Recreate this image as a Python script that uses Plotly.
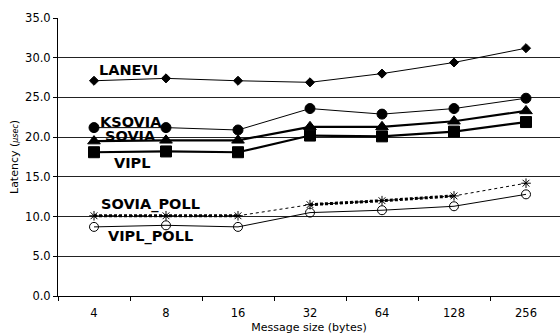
import plotly.graph_objects as go

# Message sizes (bytes) on the category axis
sizes = ["4", "8", "16", "32", "64", "128", "256"]

# One-way latency in microseconds for each transport
lanevi = [27.1, 27.4, 27.1, 26.9, 28.0, 29.4, 31.2]
ksovia = [21.2, 21.2, 20.9, 23.6, 22.9, 23.6, 24.9]
sovia = [19.5, 19.6, 19.6, 21.3, 21.3, 22.0, 23.3]
vipl = [18.1, 18.2, 18.1, 20.2, 20.1, 20.7, 21.9]
sovia_poll = [10.1, 10.1, 10.1, 11.5, 12.0, 12.6, 14.2]
vipl_poll = [8.7, 8.9, 8.7, 10.5, 10.8, 11.3, 12.8]

y_ticks = [0, 5, 10, 15, 20, 25, 30, 35]

BLACK = "#000000"
fig = go.Figure()


def add_line(y, width, symbol, msize, dash="solid", x=None, show_markers=True):
    xs = sizes if x is None else x
    fig.add_trace(go.Scatter(
        x=xs, y=y,
        mode="lines+markers" if show_markers else "lines",
        line=dict(color=BLACK, width=width, dash=dash),
        marker=dict(symbol=symbol, size=msize, color=BLACK,
                    line=dict(color=BLACK, width=1)),
        showlegend=False, hoverinfo="x+y",
    ))


add_line(lanevi, 1, "diamond", 7)
add_line(ksovia, 1, "circle", 10)
add_line(sovia, 2.2, "triangle-up", 11)
add_line(vipl, 2.2, "square", 11)

# SOVIA_POLL: thin dotted base line, heavier dots over the flat runs
add_line(sovia_poll[0:3], 3, "asterisk-open", 8, dash="3px,2px", x=sizes[0:3], show_markers=False)
add_line(sovia_poll[3:6], 3, "asterisk-open", 8, dash="3px,2px", x=sizes[3:6], show_markers=False)
add_line(sovia_poll, 1, "asterisk-open", 8, dash="dot")

add_line(vipl_poll, 1, "circle-open", 9)

labels = [
    ("LANEVI", 0.48, 28.4),
    ("KSOVIA", 0.51, 21.9),
    ("SOVIA", 0.50, 20.15),
    ("VIPL", 0.53, 16.75),
    ("SOVIA_POLL", 0.78, 11.55),
    ("VIPL_POLL", 0.79, 7.55),
]
for text, xi, yi in labels:
    fig.add_annotation(
        x=xi, y=yi, xref="x", yref="y", text=f"<b>{text}</b>",
        showarrow=False,
        font=dict(family="DejaVu Sans", size=14.5, color=BLACK),
    )

# y-axis title with the smaller italic unit
fig.add_annotation(
    x=-44 / 502, y=0.5, xref="paper", yref="paper",
    xanchor="center", yanchor="middle",
    text="Latency (<i><span style='font-size:8px'>μsec</span></i>)",
    textangle=-90, showarrow=False,
    font=dict(family="DejaVu Sans", size=11, color=BLACK),
)

fig.update_layout(
    width=560, height=335,
    margin=dict(l=58, r=0, t=18, b=39),
    paper_bgcolor="white", plot_bgcolor="white",
    font=dict(family="DejaVu Sans", size=11.5, color=BLACK),
    xaxis=dict(
        type="category", categoryorder="array", categoryarray=sizes,
        range=[-0.5, -0.5 + 502 / 72],
        showgrid=False, showline=True, linecolor=BLACK, linewidth=1,
        ticks="outside", ticklen=4, tickcolor=BLACK, tickson="boundaries",
        ticklabelstandoff=6,
        title=dict(text="Message size (bytes)", standoff=4,
                   font=dict(size=11)),
        zeroline=False,
    ),
    yaxis=dict(
        range=[0, 35], tickvals=y_ticks,
        ticktext=[f"{v:.1f}" for v in y_ticks],
        showgrid=True, gridcolor="#222222", gridwidth=1,
        showline=True, linecolor=BLACK, linewidth=1,
        ticks="outside", ticklen=4, tickcolor=BLACK,
        zeroline=False,
    ),
)

fig.write_html("out.html")
